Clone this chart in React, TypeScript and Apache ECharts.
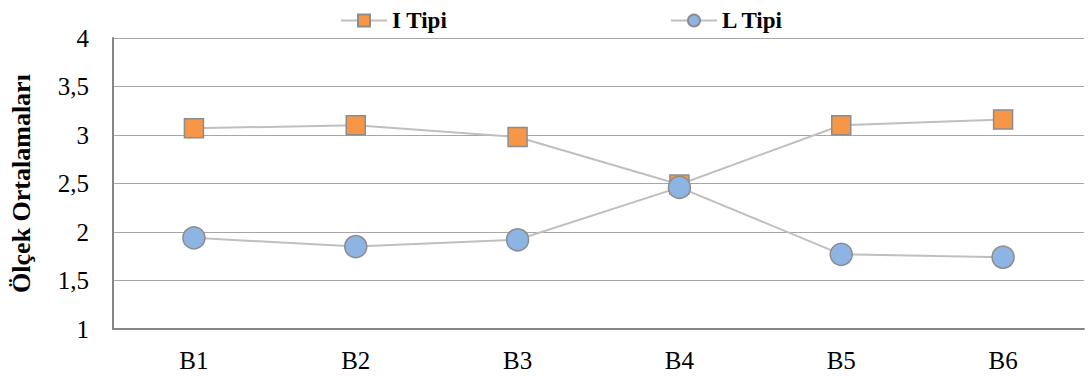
import React, { useEffect, useRef } from "react";
import * as echarts from "echarts";

const categories = ["B1", "B2", "B3", "B4", "B5", "B6"];
const iTipi = [3.07, 3.1, 2.98, 2.49, 3.1, 3.16];
const lTipi = [1.94, 1.85, 1.92, 2.46, 1.77, 1.74];
const seriesNames = ["I Tipi", "L Tipi"];
const yAxisName = "Ölçek Ortalamaları";

const FONT = "Liberation Serif";

export default function App() {
  const ref = useRef<HTMLDivElement>(null);
  useEffect(() => {
    if (!ref.current) return;
    const chart = echarts.init(ref.current, null, { renderer: "svg" });
    const legendText = { fontFamily: FONT, fontSize: 23, fontWeight: "bold", color: "#000" };
    chart.setOption({
      animation: false,
      backgroundColor: "#fff",
      legend: [
        {
          data: [seriesNames[0]],
          left: 335,
          top: 4,
          itemWidth: 46,
          itemHeight: 15,
          itemGap: 0,
          textStyle: legendText,
        },
        {
          data: [seriesNames[1]],
          left: 665,
          top: 4,
          itemWidth: 46,
          itemHeight: 15,
          itemGap: 0,
          textStyle: legendText,
        },
      ],
      grid: { left: 112, right: 6, top: 38, bottom: 47 },
      xAxis: {
        type: "category",
        data: categories,
        boundaryGap: true,
        axisLine: { show: true, lineStyle: { color: "#868686", width: 2 } },
        axisTick: { show: false },
        axisLabel: { fontFamily: FONT, fontSize: 25, color: "#000", margin: 19 },
      },
      yAxis: {
        type: "value",
        min: 1,
        max: 4,
        interval: 0.5,
        name: yAxisName,
        nameLocation: "middle",
        nameRotate: 90,
        nameGap: 79,
        nameTextStyle: { fontFamily: FONT, fontSize: 26, fontWeight: "bold", color: "#000" },
        axisLine: { show: true, lineStyle: { color: "#868686", width: 2 } },
        axisTick: { show: false },
        splitLine: { show: true, lineStyle: { color: "#a6a6a6", width: 1 } },
        axisLabel: {
          fontFamily: FONT,
          fontSize: 25,
          color: "#000",
          margin: 24,
          formatter: (v: number) => String(v).replace(".", ","),
        },
      },
      series: [
        {
          name: seriesNames[0],
          type: "line",
          data: iTipi,
          symbol: "rect",
          symbolSize: 19,
          lineStyle: { color: "#bfbfbf", width: 2 },
          itemStyle: { color: "#F79646", borderColor: "#8c8c8c", borderWidth: 1.5 },
        },
        {
          name: seriesNames[1],
          type: "line",
          data: lTipi,
          symbol: "circle",
          symbolSize: 22,
          lineStyle: { color: "#bfbfbf", width: 2 },
          itemStyle: { color: "#8EB4E3", borderColor: "#8c8c8c", borderWidth: 1.5 },
        },
      ],
    });
    return () => chart.dispose();
  }, []);
  return (
    <div
      ref={ref}
      style={{ position: "absolute", left: 0, top: 0, width: 1090, height: 376 }}
    />
  );
}
